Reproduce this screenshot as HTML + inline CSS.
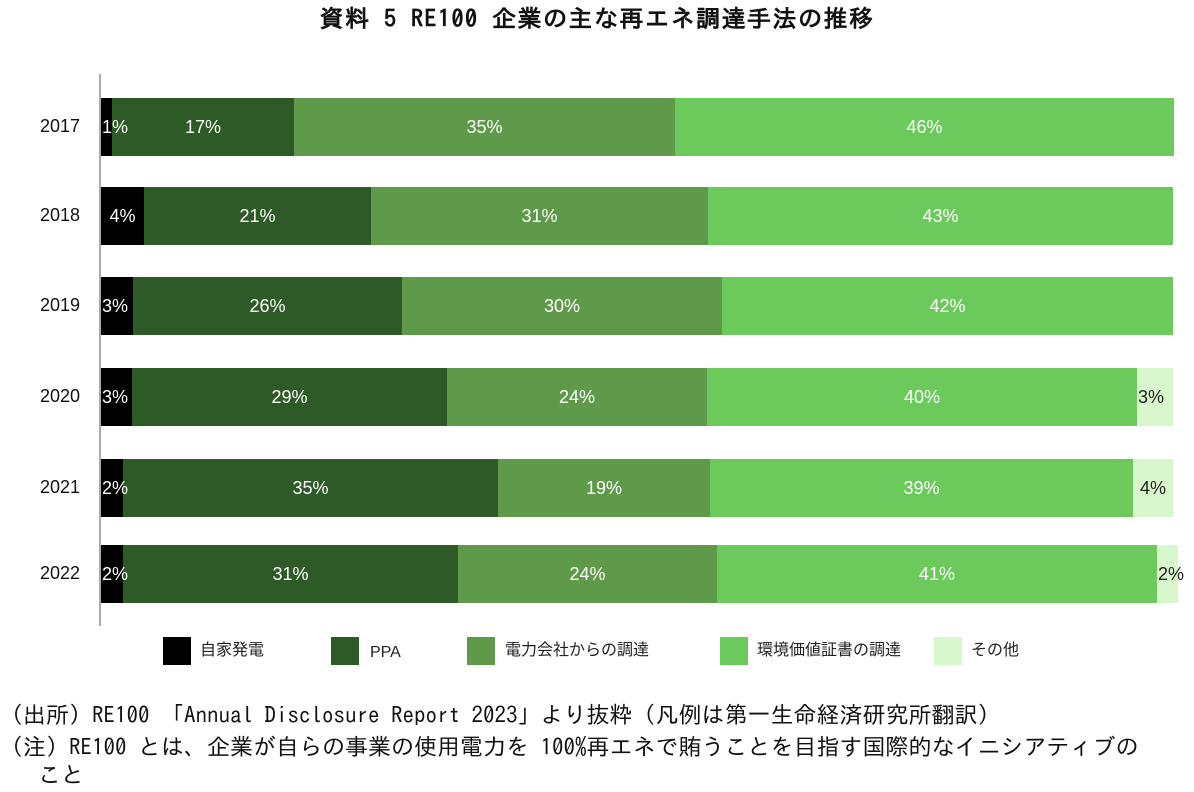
<!DOCTYPE html><html><head><meta charset="utf-8"><style>
body{margin:0;width:1194px;height:792px;background:#fff;position:relative;overflow:hidden;font-family:"Liberation Sans","Noto Sans CJK JP",sans-serif;}
.a{position:absolute}
.seg{position:absolute}
.lab{position:absolute;display:flex;align-items:center;justify-content:center;color:#fff;font-size:18px;white-space:nowrap}
.yl{position:absolute;left:28px;font-size:18px;color:#111;width:52px;text-align:right}
.lg{position:absolute;top:637px;width:28px;height:28px}
.lt{position:absolute;top:639px;font-size:16px;line-height:24px;height:24px;color:#222}
.n{position:absolute;left:0;font-size:23px;color:#111;white-space:nowrap;font-family:"IPAGothic","Noto Sans CJK JP",sans-serif}
</style></head><body>
<div class="a" style="left:0;width:1194px;top:6px;text-align:center;font-size:24px;font-weight:bold;letter-spacing:1.5px;color:#111;font-family:'IPAGothic','Noto Sans CJK JP',sans-serif">資料 5 RE100 企業の主な再エネ調達手法の推移</div>
<div class="a" style="left:99px;top:74px;width:2px;height:552px;background:#aaa"></div>
<div id="c"></div>
<div class="lg" style="left:163px;background:#000"></div><div class="lt" style="left:200px">自家発電</div>
<div class="lg" style="left:331px;background:#2d5a27"></div><div class="lt" style="left:370px;top:641px">PPA</div>
<div class="lg" style="left:467px;background:#5f9a4b"></div><div class="lt" style="left:505px">電力会社からの調達</div>
<div class="lg" style="left:720px;background:#6cc95b"></div><div class="lt" style="left:757px">環境価値証書の調達</div>
<div class="lg" style="left:934px;background:#d8f7cc"></div><div class="lt" style="left:971px">その他</div>
<div class="n" style="top:703px">（出所）RE100 「Annual Disclosure Report 2023」より抜粋（凡例は第一生命経済研究所翻訳）</div>
<div class="n" style="top:735px">（注）RE100 とは、企業が自らの事業の使用電力を 100%再エネで賄うことを目指す国際的なイニシアティブの</div>
<div class="n" style="top:763px;left:38px">こと</div>
<script>
var cols=["#000","#2d5a27","#5f9a4b","#6cc95b","#d8f7cc"];
var rows=[["2017",98,[101,112,294,675,1174],["1%","17%","35%","46%"]],
["2018",187,[101,144,371,708,1173],["4%","21%","31%","43%"]],
["2019",277,[101,133,402,722,1173],["3%","26%","30%","42%"]],
["2020",368,[101,132,447,707,1137,1173],["3%","29%","24%","40%","3%"]],
["2021",459,[101,123,498,710,1133,1173],["2%","35%","19%","39%","4%"]],
["2022",545,[101,123,458,717,1157,1178],["2%","31%","24%","41%","2%"]]];
var h="",l="";
rows.forEach(function(r){
h+='<div class="yl" style="top:'+(r[1]+18)+'px">'+r[0]+'</div>';
for(var i=0;i<r[3].length;i++){var x=r[2][i],w=r[2][i+1]-x;
h+='<div class="seg" style="left:'+x+'px;top:'+r[1]+'px;width:'+w+'px;height:58px;background:'+cols[i]+'"></div>';
var st=i==4?'color:#222;':'';
var pos=w<40?'left:'+(x+1)+'px;justify-content:flex-start;width:'+Math.max(w,40)+'px;':'left:'+x+'px;width:'+w+'px;';
l+='<div class="lab" style="'+pos+'top:'+r[1]+'px;height:58px;'+st+'">'+r[3][i]+'</div>';}
});
document.getElementById("c").innerHTML=h+l;
</script>
</body></html>
